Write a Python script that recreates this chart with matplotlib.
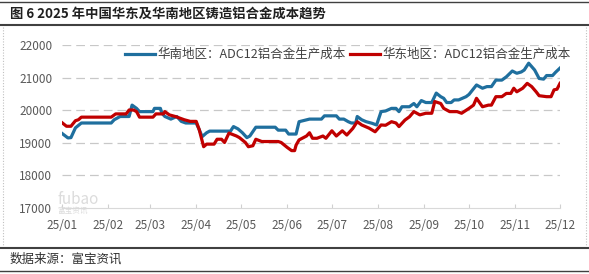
import numpy as np
import pandas as pd
import matplotlib
matplotlib.use("Agg")
import matplotlib.pyplot as plt
import matplotlib.dates as mdates
from matplotlib.lines import Line2D

plt.rcParams['font.family'] = ['Noto Sans CJK SC', 'DejaVu Sans']

title = "图 6 2025 年中国华东及华南地区铸造铝合金成本趋势"
source = "数据来源：富宝资讯"
south_label = "华南地区：ADC12铝合金生产成本"
east_label = "华东地区：ADC12铝合金生产成本"

# days counted from 2025-01-01, values in yuan/t
south_days = [0, 4, 6, 9, 13, 33, 35, 39, 45, 47, 50, 52, 61, 62, 66, 67, 69, 73, 77, 80,
              83, 90, 92, 94, 97, 99, 113, 115, 118, 121, 124, 126, 130, 143, 145, 150,
              152, 157, 159, 166, 174, 176, 184, 186, 189, 192, 194, 197, 198, 201, 204,
              208, 211, 214, 217, 221, 224, 226, 228, 233, 236, 238, 241, 244, 248, 251,
              254, 256, 258, 261, 263, 266, 271, 273, 278, 282, 285, 288, 291, 295, 298,
              302, 305, 308, 310, 313, 317, 320, 323, 325, 329, 331, 334]
south_vals = [19280, 19140, 19150, 19450, 19600, 19600, 19700, 19800, 19800, 20150, 20050,
              19950, 19950, 20050, 20050, 19900, 19800, 19720, 19800, 19650, 19600, 19600,
              19400, 19180, 19300, 19350, 19350, 19490, 19420, 19300, 19150, 19200, 19470,
              19470, 19380, 19380, 19260, 19260, 19640, 19720, 19720, 19820, 19820, 19720,
              19720, 19640, 19600, 19600, 19800, 19700, 19640, 19590, 19540, 19950, 19970,
              20050, 20050, 19950, 20100, 20100, 20200, 20100, 20290, 20230, 20230, 20520,
              20410, 20360, 20230, 20230, 20310, 20310, 20410, 20480, 20770, 20670, 20720,
              20720, 20920, 20920, 21020, 21200, 21130, 21170, 21230, 21440, 21230, 20970,
              20950, 21060, 21060, 21160, 21290]

east_days = [0, 3, 6, 9, 11, 13, 33, 36, 43, 45, 48, 50, 52, 61, 63, 68, 69, 72, 76, 79,
             82, 86, 90, 92, 95, 97, 102, 104, 107, 109, 112, 117, 119, 123, 125, 128, 130,
             134, 145, 147, 151, 154, 156, 157, 159, 164, 166, 168, 171, 175, 177, 181, 184,
             188, 191, 195, 198, 201, 206, 210, 214, 217, 221, 224, 226, 230, 233, 236, 240,
             244, 248, 250, 254, 256, 260, 265, 268, 273, 276, 278, 282, 286, 288, 291, 295,
             298, 301, 303, 305, 309, 312, 315, 318, 320, 325, 328, 330, 332, 334]
east_vals = [19610, 19500, 19500, 19670, 19700, 19780, 19780, 19880, 19880, 20000, 20000,
             19950, 19780, 19780, 19880, 19880, 19950, 19850, 19800, 19750, 19700, 19650,
             19650, 19400, 18870, 18950, 18950, 19100, 19100, 19000, 19290, 19200, 19150,
             19000, 18870, 18900, 19100, 19030, 19030, 19000, 18850, 18750, 18750, 18920,
             19080, 19200, 19300, 19130, 19130, 19200, 19130, 19360, 19200, 19360, 19230,
             19430, 19640, 19540, 19440, 19330, 19540, 19530, 19640, 19600, 19490, 19690,
             19790, 19950, 19850, 19900, 19900, 20260, 20200, 20050, 19950, 19950, 19900,
             20050, 20150, 20360, 20100, 20150, 20150, 20410, 20410, 20510, 20510, 20670,
             20560, 20670, 20820, 20720, 20560, 20440, 20410, 20410, 20620, 20640, 20820]

start = pd.Timestamp("2025-01-01")
south_x = start + pd.to_timedelta(south_days, unit="D")
east_x = start + pd.to_timedelta(east_days, unit="D")

fig = plt.figure(figsize=(5.89, 2.74), dpi=100)
ax = fig.add_axes([62 / 589, 1 - 207.5 / 274, 498 / 589, 162.5 / 274])

blue = "#1f6f9e"
red = "#c00000"
ax.plot(south_x, south_vals, color=blue, lw=2.3, solid_joinstyle="round", zorder=3)
ax.plot(east_x, east_vals, color=red, lw=2.3, solid_joinstyle="round", zorder=4)

ax.set_ylim(17000, 22000)
ax.set_xlim(start, pd.Timestamp("2025-12-01"))
ax.set_yticks(np.arange(17000, 22001, 1000))
for v in range(18000, 22001, 1000):
    ax.axhline(v, color="#c8c8c8", lw=0.9, ls=(0, (7, 4)), zorder=1)

ax.xaxis.set_major_locator(mdates.MonthLocator())
ax.xaxis.set_major_formatter(mdates.DateFormatter("%y/%m"))
ax.tick_params(axis="x", direction="in", length=3, color="#d0d0d0",
               labelsize=8.5, labelcolor="#595959", pad=8)
ax.tick_params(axis="y", length=0, labelsize=8.5, labelcolor="#595959", pad=7)
for s in ["left", "right", "top"]:
    ax.spines[s].set_visible(False)
ax.spines["bottom"].set_color("#d9d9d9")
ax.patch.set_alpha(0)

handles = [Line2D([], [], color=blue, lw=2.3), Line2D([], [], color=red, lw=2.3)]
ax.legend(handles, [south_label, east_label], ncol=2, frameon=False, loc="center",
          bbox_to_anchor=(0.574, 0.94), fontsize=9, handlelength=2.4,
          handletextpad=0.2, columnspacing=0.3, labelcolor="#404040",
          borderpad=0, borderaxespad=0)

# watermark
fig.text(57 / 589, 1 - 200 / 274, "fubao", fontsize=11, color="#dcdcdc", va="center", zorder=0)
fig.text(57 / 589, 1 - 211 / 274, "富宝资讯", fontsize=5.5, color="#dcdcdc", va="center", zorder=0)

# frame lines and texts
fig.add_artist(Line2D([0, 1], [1 - 2 / 274] * 2, color="#404040", lw=1.0))
fig.add_artist(Line2D([0, 1], [1 - 25 / 274] * 2, color="#404040", lw=1.5))
fig.add_artist(Line2D([0, 1], [1 - 248 / 274] * 2, color="#404040", lw=1.5))
fig.add_artist(Line2D([0, 1], [1 - 271 / 274] * 2, color="#404040", lw=1.0))
dot = dict(color="#c0c0c0", lw=0.8, ls=(0, (1, 1.5)))
fig.add_artist(Line2D([3 / 589, 3 / 589], [1 - 27 / 274, 1 - 245 / 274], **dot))
fig.add_artist(Line2D([586 / 589, 586 / 589], [1 - 27 / 274, 1 - 245 / 274], **dot))

fig.text(10 / 589, 1 - 13.5 / 274, title, fontsize=9.6, fontweight="bold",
         color="#202020", va="center")
fig.text(10 / 589, 1 - 259 / 274, source, fontsize=9, color="#303030", va="center")

fig.savefig("out.png", dpi=100)
